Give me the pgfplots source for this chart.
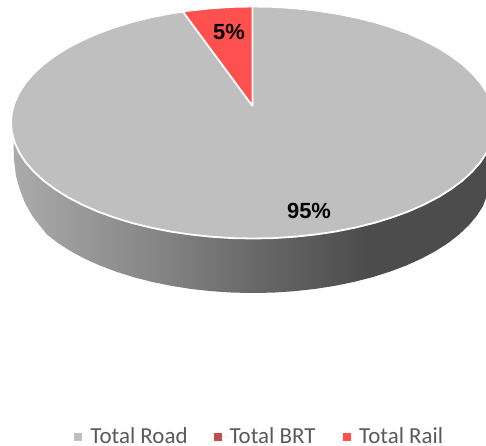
\documentclass[border=0pt]{standalone}
\usepackage{fontspec}
\setmainfont{Carlito}
\newfontfamily\labelfont{Liberation Sans}
\usepackage{pgfplots}
\pgfplotsset{compat=1.18}
\definecolor{roadgrey}{HTML}{BFBFBF}
\definecolor{brtred}{HTML}{C0504D}
\definecolor{railred}{HTML}{FF5050}
\definecolor{legendtext}{HTML}{595959}
% Side wall of the disc: lighter at the left, darkest towards the right
\pgfdeclarehorizontalshading{sidewall}{100bp}{
  color(0bp)=(black!33);
  color(25bp)=(black!33);
  color(40.5bp)=(black!48);
  color(50.4bp)=(black!59);
  color(62.3bp)=(black!70);
  color(75bp)=(black!70);
  color(100bp)=(black!70)}
\begin{document}
\begin{tikzpicture}
\begin{axis}[
  width=486bp, height=446bp, scale only axis,
  xmin=0, xmax=486, ymin=0, ymax=446, y dir=reverse,
  hide axis,
  legend columns=3,
  legend style={
    draw=none, fill=none,
    at={(axis cs:70,449.5)}, anchor=south west,
    font=\fontsize{23}{25}\selectfont\color{legendtext},
    /tikz/every even column/.append style={column sep=24.5bp},
  },
  legend image code/.code={\path (0bp,0bp) -- (13.5bp,0bp);\fill[#1,draw=none] (0bp,-4bp) rectangle (8bp,4bp);},
]
% side wall
\addplot[forget plot, shade, shading=sidewall, draw=none] coordinates {
  (13,125) (486,125) (486,198) (482.9,206.3) (476.6,216) (468.7,225.4) (459.1,234.5)
  (448,243.1) (435.3,251.2) (421.3,258.7) (406,265.6) (389.5,271.8) (372,277.3)
  (353.6,282) (334.4,285.9) (314.6,289) (294.3,291.2) (273.7,292.6) (253,293)
  (232.3,292.6) (211.7,291.2) (191.4,289) (171.6,285.9) (152.4,282) (134,277.3)
  (116.5,271.8) (100,265.6) (84.7,258.7) (70.7,251.2) (58,243.1) (46.9,234.5)
  (33,217) (25,203) (20,190) (16,176) (14,160) };
% Total Road: top face of the disc
\addplot[fill=roadgrey, draw=white, line width=1.8bp, line join=round] coordinates {
  (253,6.5) (274.1,6.9) (295,8.3) (315.6,10.5) (335.8,13.5) (355.3,17.4) (374,22)
  (391.8,27.5) (408.6,33.6) (424.1,40.5) (438.4,47.9) (451.2,56) (462.6,64.5)
  (472.3,73.5) (480.4,82.8) (486.7,92.5) (491.3,102.4) (494.1,112.4) (495,122.5)
  (494.1,132.6) (491.3,142.6) (486.7,152.5) (480.4,162.2) (472.3,171.5) (462.6,180.5)
  (451.2,189) (438.4,197.1) (424.1,204.5) (408.6,211.4) (391.8,217.5) (374,223)
  (355.3,227.6) (335.8,231.5) (315.6,234.5) (295,236.7) (274.1,238.1) (253,238.5)
  (231.9,238.1) (211,236.7) (190.4,234.5) (170.2,231.5) (150.7,227.6) (132,223)
  (114.2,217.5) (97.4,211.4) (81.9,204.5) (67.6,197.1) (54.8,189) (43.4,180.5)
  (33.7,171.5) (25.6,162.2) (19.3,152.5) (14.7,142.6) (11.9,132.6) (11,122.5)
  (11.9,112.4) (14.7,102.4) (19.3,92.5) (25.6,82.8) (33.7,73.5) (43.4,64.5)
  (54.8,56) (67.6,47.9) (81.9,40.5) (97.4,33.6) (114.2,27.5) (132,22) (150.7,17.4)
  (170.2,13.5) (190.4,10.5) (211,8.3) (231.9,6.9) (253,6.5) };
\addlegendentry{Total Road}
% Total BRT rounds to nothing, so only its legend key shows
\addplot[fill=brtred, draw=none] coordinates { (252.5,106) };
\addlegendentry{Total BRT}
% Total Rail wedge
\addplot[fill=railred, draw=white, line width=1.8bp, line join=miter] coordinates {
  (252.5,106) (252.5,6.5) (231.9,6.9) (211,8.3) (190.4,10.5) (182.7,11.4) (252.5,106) };
\addlegendentry{Total Rail}
\node[font=\labelfont\bfseries\fontsize{22}{24}\selectfont, text=black] at (axis cs:229,32) {5\%};
\node[font=\labelfont\bfseries\fontsize{22}{24}\selectfont, text=black] at (axis cs:309,211) {95\%};
\end{axis}
\pgfresetboundingbox
\path (0bp,0bp) rectangle (486bp,446bp);
\end{tikzpicture}
\end{document}
